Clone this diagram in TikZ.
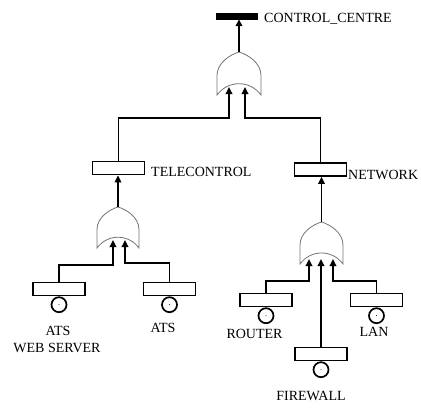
\documentclass[tikz,border=0pt]{standalone}
\usepackage{fontspec}
\setmainfont{Liberation Serif}
\usetikzlibrary{arrows.meta}
\tikzset{
 conn/.style={line width=1.7pt, black},
 arr/.style={conn, -{Triangle[length=7pt,width=6.5pt]}},
 ev/.style={draw, line width=1.7pt, fill=white, minimum width=52pt, minimum height=13pt, inner sep=0pt},
 basic/.style={draw, circle, line width=1.7pt, minimum size=15pt, inner sep=0pt, anchor=north},
 lbl/.style={font=\fontsize{14}{16}\selectfont, inner sep=0pt},
 gate/.style={draw=black!55, line width=0.8pt},
}
\newcommand{\orgate}[4]{%
 \draw[gate] (#1,-#4) -- (#1,{-#4+0.45*(#4-#3)})
  .. controls (#1,{-#3-0.25*(#4-#3)}) and ({(#1+#2)/2-0.2*(#2-#1)},{-#3-0.06*(#4-#3)}) .. ({(#1+#2)/2},-#3)
  .. controls ({(#1+#2)/2+0.2*(#2-#1)},{-#3-0.06*(#4-#3)}) and (#2,{-#3-0.25*(#4-#3)}) .. (#2,{-#4+0.45*(#4-#3)})
  -- (#2,-#4)
  .. controls ({#2-0.25*(#2-#1)},{-#4+0.35*(#4-#3)}) and ({#1+0.25*(#2-#1)},{-#4+0.35*(#4-#3)}) .. cycle;}
\newcommand{\basicdot}[1]{\fill (#1.center) circle (0.5pt);}
\begin{document}
\begin{tikzpicture}[x=1pt,y=1pt]
\useasboundingbox (0,0) rectangle (421,-408);
% top event
\node[draw, fill=black, minimum width=41pt, minimum height=6pt, inner sep=0pt] (top) at (236.5,-16) {};
\node[lbl, anchor=base west] (lcc) at (264,-22) {CONTROL\_CENTRE};
% intermediate events
\node[ev] (tc) at (118.5,-168) {};
\node[lbl, anchor=base west] (ltc) at (151,-176) {TELECONTROL};
\node[ev] (net) at (320.5,-169.5) {};
\node[lbl, anchor=base west] (lnet) at (348,-179) {NETWORK};
% basic events
\node[ev] (atsw) at (59,-289) {};
\node[basic] (catsw) at (atsw.south) {};
\node[ev] (ats) at (169.5,-289) {};
\node[basic] (cats) at (ats.south) {};
\node[ev] (router) at (266,-300) {};
\node[basic] (crouter) at (router.south) {};
\node[ev] (lan) at (376.5,-300) {};
\node[basic] (clan) at (lan.south) {};
\node[ev] (fw) at (321,-354) {};
\node[basic] (cfw) at (fw.south) {};
\basicdot{catsw}\basicdot{cats}\basicdot{crouter}\basicdot{clan}\basicdot{cfw}
\node[lbl, anchor=base] (latsw1) at (58,-335) {ATS};
\node[lbl, anchor=base] (latsw2) at (57,-352) {WEB SERVER};
\node[lbl, anchor=base] (lats) at (163,-332) {ATS};
\node[lbl, anchor=base] (lrouter) at (254.5,-338) {ROUTER};
\node[lbl, anchor=base] (llan) at (374,-336) {LAN};
\node[lbl, anchor=base] (lfw) at (311,-400) {FIREWALL};
% gates
\orgate{217}{261}{52}{95}
\orgate{97}{139}{207}{248}
\orgate{300}{343}{222}{264}
% gate coordinates
\coordinate (g1top) at (239,-52);
\coordinate (g1a) at (229,-87);
\coordinate (g1al) at (229,-118);
\coordinate (g1b) at (245,-87);
\coordinate (g1bl) at (245,-118);
\coordinate (g2top) at (118,-207);
\coordinate (g2a) at (113,-240);
\coordinate (g2al) at (113,-265);
\coordinate (g2b) at (125,-240);
\coordinate (g2bl) at (125,-263);
\coordinate (g3top) at (321.5,-222);
\coordinate (g3a) at (309,-259);
\coordinate (g3al) at (309,-281);
\coordinate (g3c) at (321,-259);
\coordinate (g3b) at (333,-259);
\coordinate (g3bl) at (333,-281);
% connectors
\draw[arr] (g1top) -- (g1top |- top.south);
\draw[arr] (tc.north) |- (g1al) -- (g1a);
\draw[arr] (net.north) |- (g1bl) -- (g1b);
\draw[arr] (g2top) -- (g2top |- tc.south);
\draw[arr] (atsw.north) |- (g2al) -- (g2a);
\draw[arr] (ats.north) |- (g2bl) -- (g2b);
\draw[arr] (g3top) -- (g3top |- net.south);
\draw[arr] (router.north) |- (g3al) -- (g3a);
\draw[arr] (fw.north) -- (g3c);
\draw[arr] (lan.north) |- (g3bl) -- (g3b);
\end{tikzpicture}
\end{document}
